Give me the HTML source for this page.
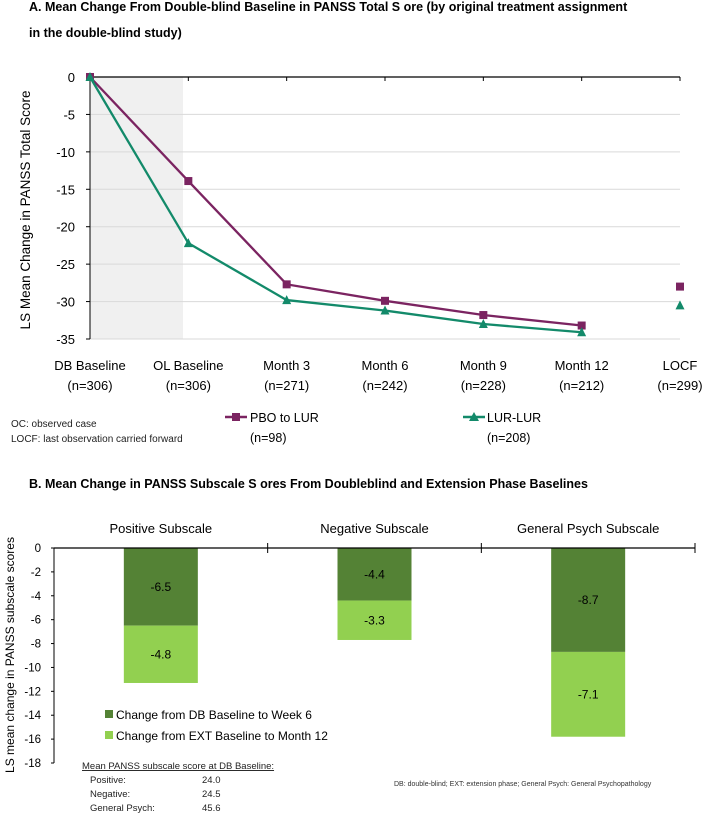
<!DOCTYPE html>
<html><head><meta charset="utf-8"><style>
body{margin:0;background:#fff;}
svg{display:block;font-family:"Liberation Sans",sans-serif;}
</style></head><body>
<svg id="s" width="704" height="816" viewBox="0 0 704 816">
<text x="29" y="11" font-size="12.5" font-weight="bold">A. Mean Change From Double-blind Baseline in PANSS Total S  ore (by original treatment assignment</text>
<text x="29" y="37" font-size="12.5" font-weight="bold">in the double-blind study)</text>
<g id="ga"></g>
<text x="11" y="427" font-size="10" fill="#222">OC: observed case</text>
<text x="11" y="442" font-size="10" fill="#222">LOCF: last observation carried forward</text>
<g>
<line x1="225" y1="417" x2="247" y2="417" stroke="#7b2461" stroke-width="2.5"/><rect x="232" y="413" width="8" height="8" fill="#7b2461"/>
<text x="250" y="422" font-size="12.5">PBO to LUR</text><text x="250" y="442" font-size="12.5">(n=98)</text></g>
<g>
<line x1="463" y1="417" x2="485" y2="417" stroke="#138a6a" stroke-width="2.5"/><polygon points="474,412 479,421 469,421" fill="#138a6a"/>
<text x="487" y="422" font-size="12.5">LUR-LUR</text><text x="487" y="442" font-size="12.5">(n=208)</text></g>
<text x="29" y="488" font-size="12.5" font-weight="bold">B. Mean Change in PANSS Subscale S  ores From Doubleblind and Extension Phase Baselines</text>
<g id="gb"></g>
<rect x="105" y="710" width="8" height="8" fill="#548235"/>
<text x="116" y="719" font-size="12">Change from DB Baseline to Week 6</text>
<rect x="105" y="731" width="8" height="8" fill="#92d050"/>
<text x="116" y="740" font-size="12">Change from EXT Baseline to Month 12</text>
<g font-size="9.5" fill="#222">
<text x="82" y="769" text-decoration="underline">Mean PANSS subscale score at DB Baseline:</text>
<text x="90" y="783">Positive:</text><text x="202" y="783">24.0</text>
<text x="90" y="797">Negative:</text><text x="202" y="797">24.5</text>
<text x="90" y="811">General Psych:</text><text x="202" y="811">45.6</text>
</g>
<text x="394" y="786" font-size="7" fill="#333">DB: double-blind;  EXT: extension phase;  General Psych: General Psychopathology</text>
</svg>
<script>
const catsA=["DB Baseline","OL Baseline","Month 3","Month 6","Month 9","Month 12","LOCF"];
const nA=["(n=306)","(n=306)","(n=271)","(n=242)","(n=228)","(n=212)","(n=299)"];
const pbo=[0,-13.9,-27.7,-29.9,-31.8,-33.2,-28.0];
const lur=[0,-22.2,-29.8,-31.2,-33.0,-34.1,-30.5];
const ticksA=[0,-5,-10,-15,-20,-25,-30,-35];
const catsB=["Positive Subscale","Negative Subscale","General Psych Subscale"];
const dbVals=[-6.5,-4.4,-8.7];
const extVals=[-4.8,-3.3,-7.1];
const ticksB=[0,-2,-4,-6,-8,-10,-12,-14,-16,-18];
const NS="http://www.w3.org/2000/svg";
function mk(p,t,a,txt){const e=document.createElementNS(NS,t);for(const k in a)e.setAttribute(k,a[k]);if(txt!==undefined)e.textContent=txt;p.appendChild(e);return e;}
// Chart A
const ga=document.getElementById('ga');
const xA=i=>90+i*(680-90)/(catsA.length-1);
const yA=v=>77+(0-v)*(339-77)/35;
let e=mk(ga,'rect',{x:90,y:77,width:93,height:262,fill:'#f0f0f0'});


ticksA.forEach(t=>{
 if(t!==0){e=mk(ga,'line',{x1:90,x2:680,y1:yA(t),y2:yA(t),stroke:'#d9d9d9','stroke-width':1});
 
 }
 mk(ga,'line',{x1:86,x2:90,y1:yA(t),y2:yA(t),stroke:'#000'});
 e=mk(ga,'text',{x:75,y:yA(t)+5,'text-anchor':'end','font-size':13},String(t));
 
 
});
e=mk(ga,'line',{x1:90,x2:680,y1:77,y2:77,stroke:'#000','stroke-width':1.2});


e=mk(ga,'line',{x1:90,x2:90,y1:77,y2:339,stroke:'#000'});


catsA.forEach((c,i)=>{
 mk(ga,'line',{x1:xA(i),x2:xA(i),y1:77,y2:81,stroke:'#000'});
 e=mk(ga,'text',{x:xA(i),y:370,'text-anchor':'middle','font-size':13},c);
 
 
 e=mk(ga,'text',{x:xA(i),y:390,'text-anchor':'middle','font-size':13},nA[i]);
 
 
});
e=mk(ga,'text',{x:0,y:0,transform:'translate(30,210) rotate(-90)','text-anchor':'middle','font-size':13.5},'LS Mean Change in PANSS Total Score');


function series(vals,col,name,tri){
 const pts=vals.slice(0,6).map((v,i)=>xA(i)+','+yA(v)).join(' ');
 e=mk(ga,'polyline',{points:pts,fill:'none',stroke:col,'stroke-width':2.3});
 
 
 vals.forEach((v,i)=>{
  const x=xA(i),y=yA(v);
  if(tri)e=mk(ga,'polygon',{points:`${x},${y-5} ${x+4.5},${y+4} ${x-4.5},${y+4}`,fill:col});
  else e=mk(ga,'rect',{x:x-4,y:y-4,width:8,height:8,fill:col});
  
  
 });
}
series(pbo,'#7b2461','pbo-to-lur',false);
series(lur,'#138a6a','lur-lur',true);
// Chart B
const gb=document.getElementById('gb');
const yB=v=>548+(0-v)*(763-548)/18;
const cw=(695-54)/3;
const cx=i=>54+cw*i+cw/2;
ticksB.forEach(t=>{
 mk(gb,'line',{x1:51,x2:54,y1:yB(t),y2:yB(t),stroke:'#000'});
 e=mk(gb,'text',{x:41,y:yB(t)+4,'text-anchor':'end','font-size':11.5},String(t));
 
 
});
e=mk(gb,'line',{x1:54,x2:54,y1:548,y2:763,stroke:'#000'});


e=mk(gb,'text',{x:0,y:0,transform:'translate(14,655) rotate(-90)','text-anchor':'middle','font-size':12},'LS mean change in PANSS subscale scores');


catsB.forEach((c,i)=>{
 const x=cx(i),w=74;
 e=mk(gb,'rect',{x:x-w/2,y:yB(0),width:w,height:yB(dbVals[i])-yB(0),fill:'#548235'});
 
 
 const t=dbVals[i]+extVals[i];
 e=mk(gb,'rect',{x:x-w/2,y:yB(dbVals[i]),width:w,height:yB(t)-yB(dbVals[i]),fill:'#92d050'});
 
 
 e=mk(gb,'text',{x:x,y:(yB(0)+yB(dbVals[i]))/2+4,'text-anchor':'middle','font-size':12},dbVals[i].toFixed(1));
 
 
 e=mk(gb,'text',{x:x,y:(yB(dbVals[i])+yB(t))/2+4,'text-anchor':'middle','font-size':12},extVals[i].toFixed(1));
 
 
 e=mk(gb,'text',{x:x,y:533,'text-anchor':'middle','font-size':13},c);
 
 
 mk(gb,'line',{x1:54+cw*(i+1),x2:54+cw*(i+1),y1:543,y2:553,stroke:'#000'});
});
e=mk(gb,'line',{x1:54,x2:695,y1:548,y2:548,stroke:'#000','stroke-width':1.2});


</script>
</body></html>
